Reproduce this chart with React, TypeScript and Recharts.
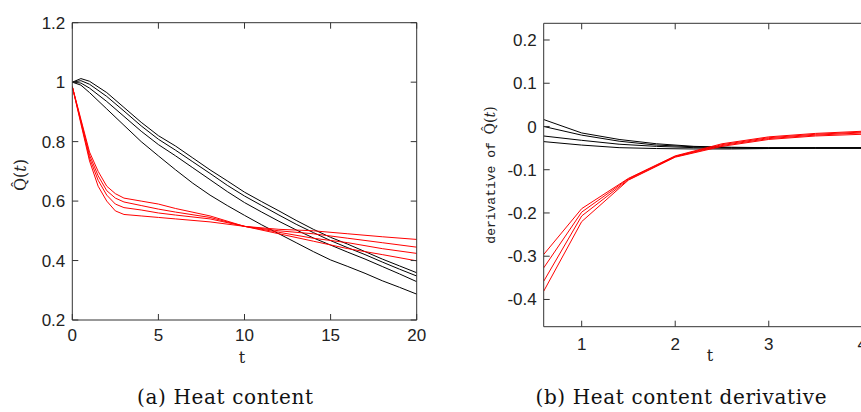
import { Line, LineChart, XAxis, YAxis } from "recharts";

// (a) heat content, black curves
const heatBlackT = [0, 0.5, 1, 2, 3, 4, 5, 6, 7, 8, 9, 10, 11, 12, 13, 14, 15, 16, 17, 18, 19, 20];
const heatBlack1 = [1.0, 1.012, 1.003, 0.965, 0.915, 0.865, 0.82, 0.785, 0.745, 0.705, 0.668, 0.63, 0.598, 0.567, 0.535, 0.505, 0.478, 0.455, 0.43, 0.405, 0.382, 0.359];
const heatBlack2 = [1.0, 1.005, 0.993, 0.952, 0.903, 0.853, 0.808, 0.771, 0.732, 0.693, 0.653, 0.617, 0.585, 0.553, 0.522, 0.494, 0.467, 0.443, 0.42, 0.395, 0.371, 0.348];
const heatBlack3 = [1.0, 0.997, 0.98, 0.935, 0.885, 0.835, 0.79, 0.752, 0.712, 0.672, 0.632, 0.595, 0.563, 0.532, 0.503, 0.476, 0.452, 0.428, 0.405, 0.38, 0.355, 0.329];
const heatBlack4 = [1.0, 0.99, 0.965, 0.91, 0.855, 0.8, 0.752, 0.705, 0.66, 0.62, 0.585, 0.552, 0.52, 0.49, 0.46, 0.43, 0.402, 0.38, 0.357, 0.332, 0.31, 0.287];

// (a) heat content, red curves
const heatRedT = [0, 0.5, 1, 1.5, 2, 2.5, 3, 4, 5, 6, 8, 10, 12, 14, 16, 18, 20];
const heatRed1 = [0.985, 0.875, 0.765, 0.7, 0.65, 0.625, 0.61, 0.6, 0.59, 0.575, 0.55, 0.515, 0.49, 0.465, 0.44, 0.42, 0.399];
const heatRed2 = [0.985, 0.87, 0.755, 0.685, 0.635, 0.61, 0.597, 0.585, 0.573, 0.563, 0.545, 0.515, 0.495, 0.475, 0.46, 0.44, 0.424];
const heatRed3 = [0.985, 0.865, 0.745, 0.67, 0.62, 0.59, 0.578, 0.57, 0.56, 0.553, 0.54, 0.515, 0.5, 0.49, 0.475, 0.46, 0.445];
const heatRed4 = [0.985, 0.86, 0.735, 0.65, 0.6, 0.567, 0.555, 0.55, 0.545, 0.54, 0.53, 0.515, 0.505, 0.5, 0.49, 0.48, 0.471];

// (b) derivative
const derivBlackT = [0.594, 1.0, 1.4, 1.8, 2.2, 2.6, 3.0, 3.5, 4.0];
const derivBlack1 = [0.016, -0.015, -0.03, -0.04, -0.046, -0.048, -0.049, -0.049, -0.049];
const derivBlack2 = [0.0, -0.02, -0.034, -0.043, -0.047, -0.049, -0.05, -0.05, -0.05];
const derivBlack3 = [-0.022, -0.032, -0.041, -0.046, -0.049, -0.05, -0.05, -0.05, -0.05];
const derivBlack4 = [-0.035, -0.043, -0.049, -0.051, -0.052, -0.052, -0.051, -0.05, -0.05];

const derivRedT = [0.594, 1.0, 1.5, 2.0, 2.5, 3.0, 3.5, 4.0];
const derivRed1 = [-0.296, -0.19, -0.12, -0.068, -0.04, -0.024, -0.016, -0.011];
const derivRed2 = [-0.327, -0.198, -0.121, -0.069, -0.042, -0.026, -0.018, -0.013];
const derivRed3 = [-0.358, -0.207, -0.123, -0.07, -0.044, -0.028, -0.02, -0.015];
const derivRed4 = [-0.381, -0.22, -0.124, -0.071, -0.046, -0.03, -0.022, -0.018];

const heatXTicks = [0, 5, 10, 15, 20];
const heatYTicks = [0.2, 0.4, 0.6, 0.8, 1, 1.2];
const derivXTicks = [1, 2, 3, 4];
const derivYTicks = [-0.4, -0.3, -0.2, -0.1, 0, 0.1, 0.2];

const toPoints = (ts: number[], vs: number[]) => ts.map((t, i) => ({ t, v: vs[i] }));

const tickFont = { fill: "#222", fontSize: 17, fontFamily: '"Liberation Sans", Arial, sans-serif' };
const axisColor = "#333";
const blank = () => "";

// black curves sit on bottom/left axes, red curves on the mirrored top/right axes (same domains)
const heatBlack = [heatBlack1, heatBlack2, heatBlack3, heatBlack4].map(v => toPoints(heatBlackT, v));
const heatRed = [heatRed1, heatRed2, heatRed3, heatRed4].map(v => toPoints(heatRedT, v));
const derivBlack = [derivBlack1, derivBlack2, derivBlack3, derivBlack4].map(v => toPoints(derivBlackT, v));
const derivRed = [derivRed1, derivRed2, derivRed3, derivRed4].map(v => toPoints(derivRedT, v));

const HeatChart = () => (
  <LineChart width={430} height={412} margin={{ top: 21.7, right: 12.3, bottom: 62, left: 12.3 }}>
    <XAxis xAxisId="b" type="number" dataKey="t" domain={[0, 20]} ticks={heatXTicks} allowDataOverflow
      height={30} tickSize={-6} tickMargin={15} tick={tickFont} stroke={axisColor} />
    <XAxis xAxisId="top" orientation="top" type="number" dataKey="t" domain={[0, 20]} ticks={heatXTicks} allowDataOverflow
      height={1} tickSize={-6} tickFormatter={blank} stroke={axisColor} />
    <YAxis yAxisId="l" type="number" domain={[0.2, 1.2]} ticks={heatYTicks} allowDataOverflow
      width={60} tickSize={-6} tickMargin={13} tick={tickFont} stroke={axisColor} />
    <YAxis yAxisId="r" orientation="right" type="number" domain={[0.2, 1.2]} ticks={heatYTicks} allowDataOverflow
      width={1} tickSize={-6} tickFormatter={blank} stroke={axisColor} />
    {heatBlack.map((pts, i) => (
      <Line key={"hb" + i} xAxisId="b" yAxisId="l" data={pts} dataKey="v" type="linear"
        stroke="#000" strokeWidth={1} dot={false} isAnimationActive={false} />
    ))}
    {heatRed.map((pts, i) => (
      <Line key={"hr" + i} xAxisId="top" yAxisId="r" data={pts} dataKey="v" type="linear"
        stroke="#ff0000" strokeWidth={1} dot={false} isAnimationActive={false} />
    ))}
  </LineChart>
);

const DerivChart = () => (
  <LineChart width={440} height={412} margin={{ top: 22.3, right: 6.7, bottom: 55.3, left: 53.7 }}>
    <XAxis xAxisId="b" type="number" dataKey="t" domain={[0.594, 4]} ticks={derivXTicks} allowDataOverflow
      height={30} tickSize={-6} tickMargin={17} tick={tickFont} stroke={axisColor} />
    <XAxis xAxisId="top" orientation="top" type="number" dataKey="t" domain={[0.594, 4]} ticks={derivXTicks} allowDataOverflow
      height={1} tickSize={-6} tickFormatter={blank} stroke={axisColor} />
    <YAxis yAxisId="l" type="number" domain={[-0.463, 0.2386]} ticks={derivYTicks} allowDataOverflow
      width={60} tickSize={-6} tickMargin={13} tick={tickFont} stroke={axisColor} />
    <YAxis yAxisId="r" orientation="right" type="number" domain={[-0.463, 0.2386]} ticks={derivYTicks} allowDataOverflow
      width={1} tickLine={false} tickFormatter={blank} stroke={axisColor} />
    {derivBlack.map((pts, i) => (
      <Line key={"db" + i} xAxisId="b" yAxisId="l" data={pts} dataKey="v" type="linear"
        stroke="#000" strokeWidth={1} dot={false} isAnimationActive={false} />
    ))}
    {derivRed.map((pts, i) => (
      <Line key={"dr" + i} xAxisId="top" yAxisId="r" data={pts} dataKey="v" type="linear"
        stroke="#ff0000" strokeWidth={1} dot={false} isAnimationActive={false} />
    ))}
  </LineChart>
);

const serif = '"DejaVu Serif", serif';

export default function App() {
  return (
    <div style={{ position: "absolute", left: 0, top: 0, width: 861, height: 412, overflow: "hidden", background: "#fff" }}>
      <div style={{ position: "absolute", left: 0, top: 0 }}>
        <HeatChart />
      </div>
      <div style={{ position: "absolute", left: 430, top: 0 }}>
        <DerivChart />
      </div>
      <svg width={861} height={412} style={{ position: "absolute", left: 0, top: 0, pointerEvents: "none" }}>
        <text x={242} y={363} textAnchor="middle" fontFamily={serif} fontSize={16} fill="#222">t</text>
        <text x={710} y={361} textAnchor="middle" fontFamily={serif} fontSize={16} fill="#222">t</text>
        <text transform="translate(26,175) rotate(-90)" textAnchor="middle" fontFamily={serif} fontSize={16} fill="#222">
          <tspan>Q̂(</tspan><tspan fontStyle="italic">t</tspan><tspan>)</tspan>
        </text>
        <text transform="translate(495,175) rotate(-90)" textAnchor="middle" fontSize={13} fill="#222">
          <tspan fontFamily='"Liberation Mono", monospace'>derivative of </tspan>
          <tspan fontFamily={serif} fontSize={14}>Q̂(</tspan>
          <tspan fontFamily={serif} fontSize={14} fontStyle="italic">t</tspan>
          <tspan fontFamily={serif} fontSize={14}>)</tspan>
        </text>
        <text x={225} y={404} textAnchor="middle" fontFamily={serif} fontSize={20} fill="#111"
          textLength={176} lengthAdjust="spacing">(a) Heat content</text>
        <text x={681} y={404} textAnchor="middle" fontFamily={serif} fontSize={20} fill="#111"
          textLength={291} lengthAdjust="spacing">(b) Heat content derivative</text>
      </svg>
    </div>
  );
}
